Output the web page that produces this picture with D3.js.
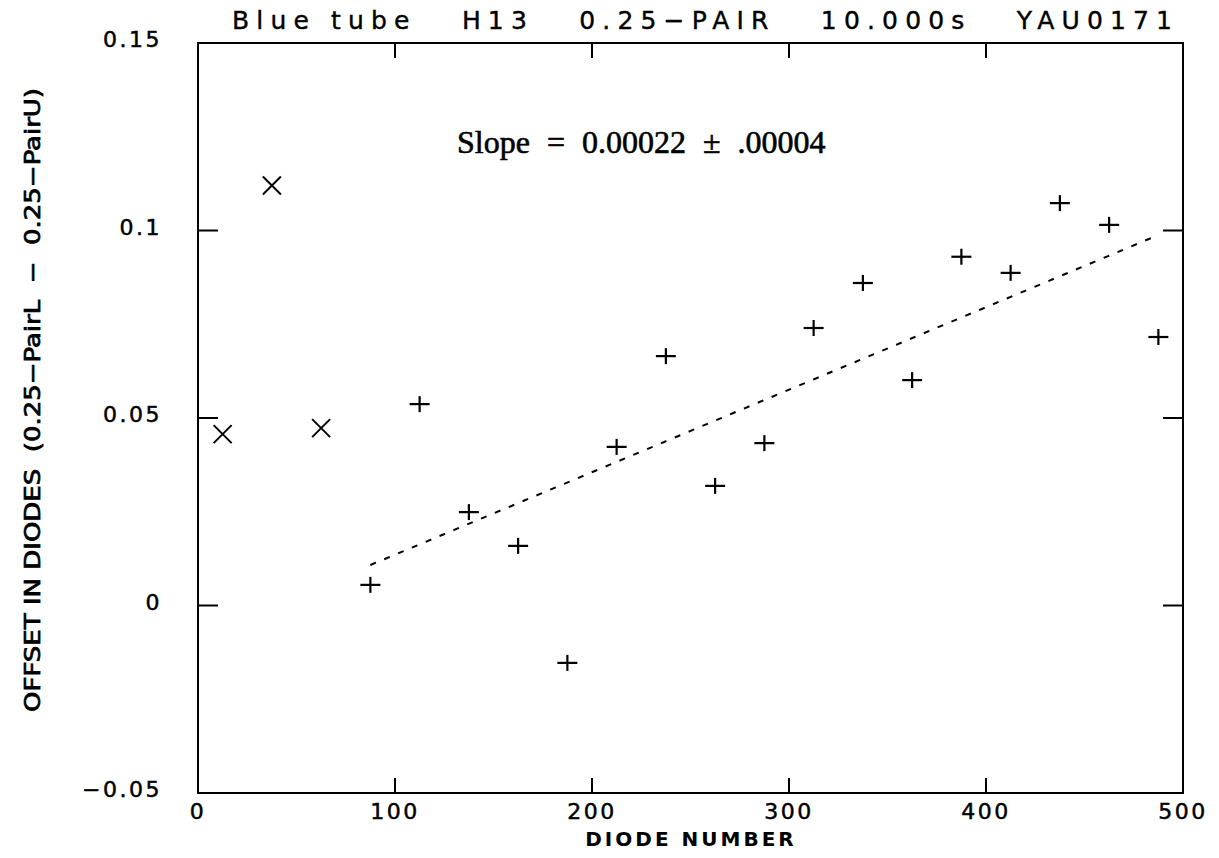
<html>
<head>
<meta charset="utf-8">
<title></title>
<style>
  body { margin: 0; background-color: white; }
  svg { background-color: white; }
  text { white-space: pre; }
  .tick-label { font-family: "DejaVu Sans", Arial, sans-serif; font-size: 22px; letter-spacing: 2.5px; fill: black; stroke: black; stroke-width: 0.5px; }
</style>
</head>
<body>
<div id="chart"></div>
<script src="https://cdnjs.cloudflare.com/ajax/libs/d3/7.8.5/d3.min.js"></script>
<script>
// data
var crossDiodes = [12.5, 37.5, 62.5];
var crossOffsets = [0.0457, 0.112, 0.0473];

var plusDiodes = [87.5, 112.5, 137.5, 162.5, 187.5, 212.5, 237.5, 262.5, 287.5,
                  312.5, 337.5, 362.5, 387.5, 412.5, 437.5, 462.5, 487.5];
var plusOffsets = [0.0055, 0.0537, 0.0249, 0.0159, -0.0153, 0.0423, 0.0665, 0.0319, 0.0433,
                   0.0740, 0.0860, 0.0601, 0.0930, 0.0887, 0.1073, 0.1015, 0.0716];

var fitDiodes = [87.5, 487.5];
var fitOffsets = [0.0108, 0.0988];

var xTicks = [0, 100, 200, 300, 400, 500];
var yTicks = [-0.05, 0, 0.05, 0.1, 0.15];
var yTickLabels = ["\u22120.05", "0", "0.05", "0.1", "0.15"];

var fullWidth = 1219, fullHeight = 858;
var margin = {top: 43, right: 36, bottom: 65, left: 198};
var width = fullWidth - margin.left - margin.right;
var height = fullHeight - margin.top - margin.bottom;

var svg = d3.select("#chart").append("svg")
    .attr("width", fullWidth)
    .attr("height", fullHeight);

var g = svg.append("g")
    .attr("transform", "translate(" + margin.left + "," + margin.top + ")");

var xScale = d3.scaleLinear().domain([0, 500]).range([0, width]);
var yScale = d3.scaleLinear().domain([-0.05, 0.15]).range([height, 0]);

// frame
g.append("rect")
    .attr("width", width).attr("height", height)
    .attr("fill", "none").attr("stroke", "black").attr("stroke-width", 2);

// inward ticks on all four sides
var innerX = xTicks.filter(function(d) { return d > 0 && d < 500; });
var innerY = yTicks.filter(function(d) { return d > -0.05 && d < 0.15; });

g.selectAll(".xt-bottom").data(innerX).enter().append("line")
    .attr("x1", xScale).attr("x2", xScale)
    .attr("y1", height).attr("y2", height - 15)
    .attr("stroke", "black").attr("stroke-width", 2);
g.selectAll(".xt-top").data(innerX).enter().append("line")
    .attr("x1", xScale).attr("x2", xScale)
    .attr("y1", 0).attr("y2", 15)
    .attr("stroke", "black").attr("stroke-width", 2);
g.selectAll(".yt-left").data(innerY).enter().append("line")
    .attr("y1", yScale).attr("y2", yScale)
    .attr("x1", 0).attr("x2", 20)
    .attr("stroke", "black").attr("stroke-width", 2);
g.selectAll(".yt-right").data(innerY).enter().append("line")
    .attr("y1", yScale).attr("y2", yScale)
    .attr("x1", width).attr("x2", width - 20)
    .attr("stroke", "black").attr("stroke-width", 2);

// tick labels
g.selectAll(".xl").data(xTicks).enter().append("text")
    .attr("class", "tick-label")
    .attr("x", xScale).attr("y", height + 26)
    .attr("text-anchor", "middle")
    .text(function(d) { return d; });

g.selectAll(".yl").data(yTicks).enter().append("text")
    .attr("class", "tick-label")
    .attr("x", -36).attr("y", function(d) { return yScale(d) + 4; })
    .attr("text-anchor", "end")
    .text(function(d, i) { return yTickLabels[i]; });

// axis titles
svg.append("text")
    .attr("x", 691).attr("y", 846)
    .attr("text-anchor", "middle")
    .attr("font-family", "DejaVu Sans, sans-serif")
    .attr("font-size", "20px").attr("font-weight", "bold")
    .attr("letter-spacing", "3px")
    .text("DIODE NUMBER");

svg.append("text")
    .attr("transform", "translate(40,400) rotate(-90)")
    .attr("text-anchor", "middle")
    .attr("font-family", "DejaVu Sans Condensed, sans-serif")
    .attr("font-size", "22px")
    .attr("stroke", "black").attr("stroke-width", 0.7)
    .attr("textLength", 624).attr("lengthAdjust", "spacingAndGlyphs")
    .text("OFFSET IN DIODES  (0.25\u2212PairL  \u2212  0.25\u2212PairU)");

// title
svg.append("text")
    .attr("x", 702).attr("y", 29)
    .attr("text-anchor", "middle")
    .attr("font-family", "DejaVu Sans, sans-serif")
    .attr("font-size", "25px")
    .attr("stroke", "black").attr("stroke-width", 0.4)
    .attr("textLength", 940).attr("lengthAdjust", "spacing")
    .text("Blue tube   H13   0.25\u2212PAIR   10.000s   YAU0171");

// slope annotation
svg.append("text")
    .attr("x", 457).attr("y", 153)
    .attr("font-family", "Liberation Serif, Times New Roman, serif")
    .attr("font-size", "32px")
    .attr("stroke", "black").attr("stroke-width", 0.6)
    .attr("word-spacing", "9px")
    .text("Slope = 0.00022 \u00b1 .00004");

// fitted line
var line = d3.line()
    .x(function(d) { return xScale(d[0]); })
    .y(function(d) { return yScale(d[1]); });
g.append("path")
    .datum(d3.zip(fitDiodes, fitOffsets))
    .attr("d", line)
    .attr("fill", "none").attr("stroke", "black")
    .attr("stroke-width", 2).attr("stroke-dasharray", "6,9");

// plus markers
var plus = g.selectAll(".plus").data(d3.zip(plusDiodes, plusOffsets)).enter().append("g")
    .attr("transform", function(d) { return "translate(" + xScale(d[0]) + "," + yScale(d[1]) + ")"; });
plus.append("line").attr("x1", -10).attr("x2", 10).attr("y1", 0).attr("y2", 0)
    .attr("stroke", "black").attr("stroke-width", 2.2);
plus.append("line").attr("x1", 0).attr("x2", 0).attr("y1", -8).attr("y2", 8)
    .attr("stroke", "black").attr("stroke-width", 2.2);

// cross markers
var cross = g.selectAll(".cross").data(d3.zip(crossDiodes, crossOffsets)).enter().append("g")
    .attr("transform", function(d) { return "translate(" + xScale(d[0]) + "," + yScale(d[1]) + ")"; });
cross.append("line").attr("x1", -9).attr("x2", 9).attr("y1", -9).attr("y2", 9)
    .attr("stroke", "black").attr("stroke-width", 2);
cross.append("line").attr("x1", -9).attr("x2", 9).attr("y1", 9).attr("y2", -9)
    .attr("stroke", "black").attr("stroke-width", 2);
</script>
</body>
</html>
